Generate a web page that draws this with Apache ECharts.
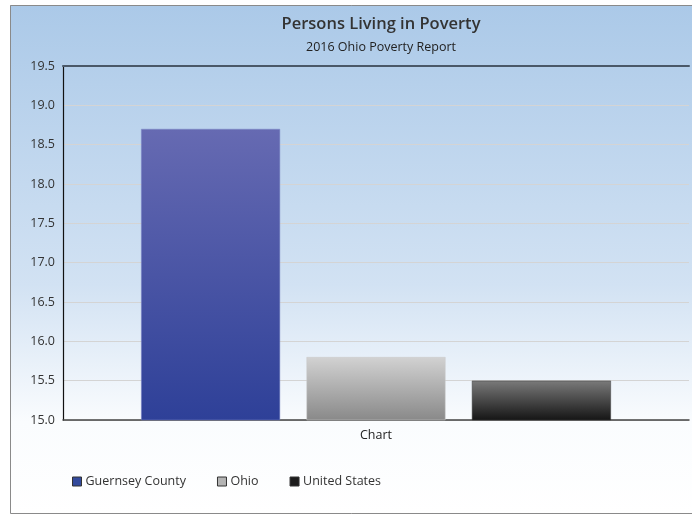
<!DOCTYPE html>
<html>
<head>
<meta charset="utf-8">
<script src="https://cdn.jsdelivr.net/npm/echarts@6/dist/echarts.min.js"></script>
<style>
  html, body { margin: 0; padding: 0; background: #ffffff; overflow: hidden; }
  #chart { width: 692px; height: 516px; }
</style>
</head>
<body>
<div id="chart"></div>
<script>
// Poverty rate (%) for 2016
const categories = ['Chart'];
const seriesNames = ['Guernsey County', 'Ohio', 'United States'];
const guernseyValues = [18.7];
const ohioValues = [15.8];
const usValues = [15.5];
const yTicks = ['15.0', '15.5', '16.0', '16.5', '17.0', '17.5', '18.0', '18.5', '19.0', '19.5'];

const FONT = '"Open Sans", "Noto Sans", sans-serif';

function vGrad(top, bottom) {
  return new echarts.graphic.LinearGradient(0, 0, 0, 1, [
    { offset: 0, color: top },
    { offset: 1, color: bottom }
  ]);
}

const barStyles = [
  { color: vGrad('#666ab2', '#2e4098'), borderColor: '#7c86c6' },
  { color: vGrad('#d2d2d2', '#898989'), borderColor: '#c8c8c8' },
  { color: vGrad('#7a7a7a', '#151515'), borderColor: '#3a3a3a' }
];
const legendColors = ['#334a9c', '#b4b4b4', '#1c1c1c'];
const valueSets = [guernseyValues, ohioValues, usValues];

const chart = echarts.init(document.getElementById('chart'), null, { renderer: 'canvas' });

chart.setOption({
  animation: false,
  backgroundColor: '#ffffff',
  graphic: [
    {
      // panel background, running off the right edge
      type: 'rect',
      z: -10,
      silent: true,
      shape: { x: 10, y: 5, width: 682, height: 509 },
      style: {
        fill: new echarts.graphic.LinearGradient(0, 0, 0, 1, [
          { offset: 0, color: '#abc9e8' },
          { offset: 0.55, color: '#d2e2f3' },
          { offset: 0.82, color: '#fafcfe' },
          { offset: 1, color: '#ffffff' }
        ])
      }
    },
    {
      // panel frame: left, top, bottom edges
      type: 'polyline',
      z: -9,
      silent: true,
      shape: { points: [[692, 5.5], [10.5, 5.5], [10.5, 513.5], [692, 513.5]] },
      style: { stroke: '#8a8a8a', lineWidth: 1, fill: null }
    }
  ],
  title: {
    text: 'Persons Living in Poverty',
    subtext: '2016 Ohio Poverty Report',
    left: 376,
    textAlign: 'center',
    top: 11,
    itemGap: 8,
    textStyle: { fontFamily: FONT, fontSize: 16.5, fontWeight: 600, color: '#333333' },
    subtextStyle: { fontFamily: FONT, fontSize: 12.5, fontWeight: 500, color: '#222222' }
  },
  legend: {
    left: 67,
    top: 470,
    itemWidth: 9,
    itemHeight: 9,
    itemGap: 31,
    icon: 'rect',
    textStyle: { fontFamily: FONT, fontSize: 12.5, color: '#333333', padding: [0, 0, 0, -1] },
    data: seriesNames.map((n, i) => ({
      name: n,
      itemStyle: { color: legendColors[i], borderColor: '#333333', borderWidth: 1 }
    }))
  },
  grid: { left: 63, right: 3, top: 66, bottom: 96, containLabel: false },
  xAxis: [
    {
      type: 'category',
      data: categories,
      axisLine: { lineStyle: { color: '#444444', width: 1.5 } },
      axisTick: { show: false },
      axisLabel: { fontFamily: FONT, fontSize: 12.5, color: '#222222', margin: 9 }
    },
    {
      type: 'category',
      position: 'top',
      data: categories,
      axisLine: { lineStyle: { color: '#4a5868', width: 2 } },
      axisTick: { show: false },
      axisLabel: { show: false }
    }
  ],
  yAxis: {
    type: 'value',
    min: Number(yTicks[0]),
    max: Number(yTicks[yTicks.length - 1]),
    interval: 0.5,
    axisLine: { show: true, lineStyle: { color: '#111111', width: 1.2 } },
    axisTick: { show: false },
    axisLabel: {
      fontFamily: FONT, fontSize: 12.5, color: '#333333', margin: 8,
      formatter: v => v.toFixed(1)
    },
    splitLine: { lineStyle: { color: '#d4d4d4', width: 1 } }
  },
  series: seriesNames.map((n, i) => ({
    name: n,
    type: 'bar',
    data: valueSets[i],
    barWidth: 139,
    barGap: '19%',
    itemStyle: { color: barStyles[i].color, borderColor: barStyles[i].borderColor, borderWidth: 0.5 }
  }))
});
</script>
</body>
</html>
